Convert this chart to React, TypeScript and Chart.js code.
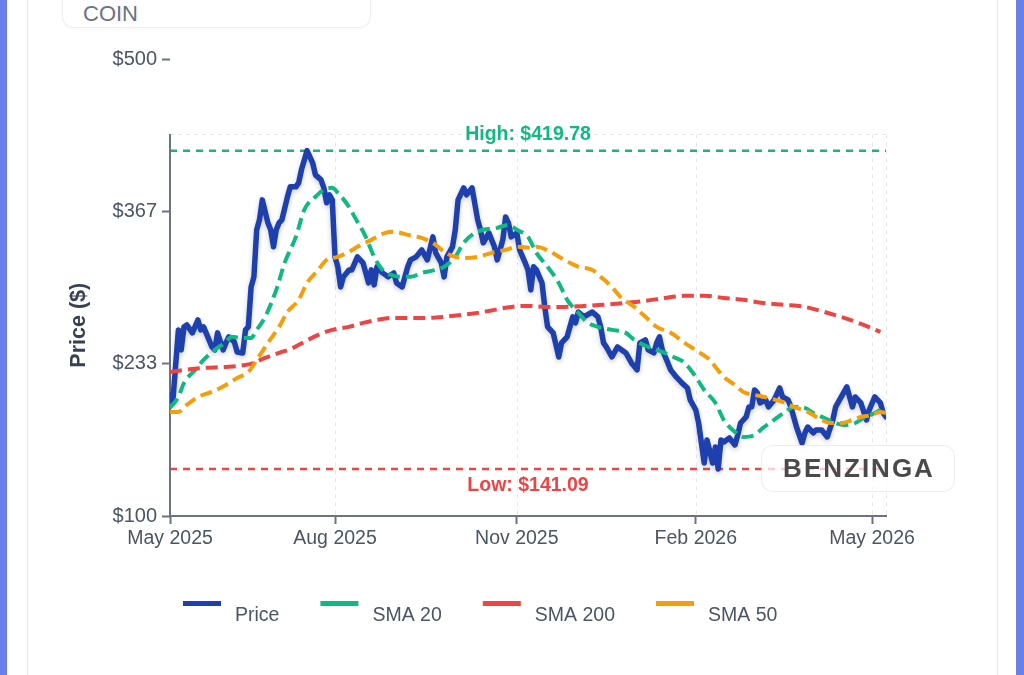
import { useEffect, useRef } from "react";
import { Chart, registerables } from "chart.js";

Chart.register(...registerables);

const FONT = '"Liberation Sans", Arial, Helvetica, sans-serif';

const symbol = "COIN";
const watermark = "BENZINGA";

const seriesNames = ["Price", "SMA 20", "SMA 200", "SMA 50"];
const seriesColors = ["#1e40af", "#10b981", "#ef4444", "#f59e0b"];

// x axis: trading-day index from the first session
const xTickDays = [0, 59, 124, 188, 251];
const xTickLabels = ["May 2025", "Aug 2025", "Nov 2025", "Feb 2026", "May 2026"];
const lastDay = 256;

const yTickValues = [100, 233.33, 366.67, 500];
const yMin = 100;
const yMax = 500;
const plotTopValue = 434;

const highValue = 419.78;
const lowValue = 141.09;

const priceDays = [
  0, 1, 3, 4, 5, 6, 8, 10, 11, 12, 15, 16, 17, 19, 20, 21, 23, 24, 26, 27, 28, 29, 30, 31, 32, 33, 35, 36,
  37, 38, 39, 40, 42, 43, 45, 46, 47, 49, 51, 52, 54, 55, 56, 57, 58, 59, 60, 61, 62, 64, 65, 67, 69, 71,
  72, 73, 74, 76, 78, 80, 81, 83, 85, 86, 88, 90, 92, 94, 95, 97, 98, 99, 101, 102, 103, 105, 106, 108,
  110, 111, 112, 114, 116, 117, 119, 120, 121, 122, 124, 125, 127, 128, 129, 130, 131, 133, 134, 135,
  137, 139, 140, 142, 144, 145, 146, 148, 151, 153, 154, 155, 156, 158, 160, 163, 165, 167, 168, 170,
  171, 173, 174, 175, 176, 178, 179, 181, 183, 185, 186, 188, 189, 190, 191, 192, 194, 195, 196, 197,
  198, 200, 202, 203, 204, 206, 207, 208, 209, 210, 211, 213, 214, 216, 218, 219, 221, 222, 223, 224,
  226, 227, 228, 230, 231, 233, 235, 237, 238, 240, 242, 243, 244, 245, 247, 249, 250, 252, 254, 255, 256,
];
const priceValues = [
  206.0, 199.8, 262.9, 245.4, 265.5, 267.3, 260.3, 271.6, 262.9, 265.5, 248.0, 245.4, 260.3, 245.4, 251.5,
  256.8, 252.4, 243.6, 242.7, 262.9, 265.5, 300.5, 309.3, 350.5, 359.2, 376.7, 356.6, 350.5, 335.6, 350.5,
  356.6, 359.2, 379.4, 388.1, 388.1, 391.6, 403.0, 419.78, 409.1, 398.6, 394.2, 387.2, 374.1, 381.1, 376.7,
  326.8, 318.1, 300.5, 309.3, 315.4, 315.4, 326.8, 321.6, 304.0, 315.4, 302.3, 318.1, 312.8, 309.3, 312.8,
  304.0, 300.5, 318.1, 324.2, 326.8, 332.9, 324.2, 344.3, 330.3, 321.6, 309.3, 326.8, 335.6, 350.5, 376.7,
  387.2, 381.1, 387.2, 359.2, 350.5, 339.1, 347.8, 335.6, 324.2, 341.7, 361.8, 356.6, 344.3, 347.8, 332.9,
  321.6, 315.4, 297.9, 318.1, 315.4, 304.0, 283.0, 265.5, 260.3, 239.2, 251.5, 256.8, 274.3, 269.0, 278.6,
  274.3, 278.6, 274.3, 265.5, 251.5, 248.0, 239.2, 248.0, 242.7, 234.0, 227.9, 251.5, 254.1, 245.4, 242.7,
  251.5, 256.8, 245.4, 234.0, 227.9, 221.7, 216.5, 212.1, 201.6, 192.8, 181.4, 163.9, 146.4, 166.6, 146.4,
  160.4, 141.09, 166.6, 164.8, 168.3, 162.2, 170.9, 181.4, 186.7, 195.5, 195.5, 210.3, 207.7, 199.0, 201.6,
  195.5, 201.6, 212.1, 204.2, 201.6, 195.5, 186.7, 177.9, 163.9, 172.7, 177.9, 172.7, 175.3, 175.3, 169.2,
  184.1, 195.5, 204.2, 213.0, 204.2, 195.5, 204.2, 199.0, 184.1, 192.8, 204.2, 199.0, 190.2, 186.7,
];

const sma20Days = [
  0, 3, 5, 9, 12, 16, 20, 22, 26, 29, 31, 34, 38, 41, 45, 48, 52, 55, 58, 60, 64, 66, 70, 73, 76, 79, 83,
  86, 90, 95, 98, 102, 105, 109, 112, 117, 121, 124, 128, 131, 135, 139, 142, 146, 149, 153, 158, 163,
  166, 171, 176, 180, 184, 188, 191, 195, 198, 202, 205, 209, 212, 216, 220, 223, 227, 230, 234, 238,
  241, 245, 248, 252, 255,
];
const sma20Values = [
  194.6, 204.2, 216.5, 227.9, 236.6, 245.4, 252.4, 256.8, 255.9, 255.9, 262.9, 274.3, 297.9, 321.6, 344.3,
  368.0, 379.4, 385.5, 387.2, 382.9, 370.6, 361.8, 344.3, 326.8, 315.4, 311.0, 309.3, 309.3, 312.8, 315.4,
  318.1, 326.8, 339.1, 347.8, 350.5, 352.2, 354.8, 350.5, 344.3, 330.3, 318.1, 304.0, 289.2, 277.8, 269.9,
  265.5, 262.9, 260.3, 254.1, 248.0, 243.6, 239.2, 234.0, 221.7, 210.3, 199.0, 184.1, 173.6, 169.2, 170.9,
  177.1, 184.1, 191.1, 195.5, 194.6, 190.2, 185.8, 181.4, 179.7, 181.4, 185.8, 190.2, 194.6,
];

const sma200Days = [
  0, 5, 12, 20, 27, 30, 34, 39, 44, 48, 53, 58, 64, 69, 74, 80, 86, 92, 98, 104, 110, 116, 122, 128, 134,
  141, 148, 155, 163, 170, 177, 184, 191, 198, 205, 212, 220, 227, 234, 241, 248, 254,
];
const sma200Values = [
  226.1, 227.9, 229.6, 230.5, 232.2, 234.0, 238.4, 242.7, 247.1, 252.4, 258.5, 262.9, 265.5, 269.0, 271.6,
  273.4, 273.4, 273.4, 274.3, 276.0, 277.8, 280.4, 283.0, 283.9, 283.0, 283.0, 283.9, 284.8, 286.5, 288.3,
  290.9, 292.7, 292.7, 290.9, 289.2, 286.5, 284.8, 283.0, 278.6, 273.4, 267.3, 261.1,
];

const sma50Days = [
  0, 3, 6, 10, 15, 20, 24, 28, 31, 35, 39, 42, 46, 49, 53, 56, 60, 64, 67, 72, 77, 80, 85, 90, 95, 98, 102,
  105, 110, 115, 120, 124, 129, 131, 136, 141, 146, 151, 154, 158, 161, 166, 170, 174, 179, 184, 189, 193,
  195, 198, 202, 205, 209, 214, 219, 223, 228, 233, 236, 240, 244, 247, 251, 254, 256,
];
const sma50Values = [
  191.1, 191.1, 197.2, 204.2, 208.6, 214.7, 220.8, 226.1, 236.6, 251.5, 265.5, 278.6, 289.2, 304.0, 315.4,
  324.2, 326.8, 331.2, 335.6, 341.7, 347.8, 348.7, 346.1, 343.4, 337.3, 331.2, 326.8, 325.9, 326.8, 330.3,
  332.9, 335.6, 334.7, 335.6, 331.2, 324.2, 318.1, 315.4, 309.3, 300.5, 291.8, 283.0, 274.3, 265.5, 260.3,
  251.5, 243.6, 236.6, 230.5, 221.7, 214.7, 208.6, 206.0, 203.3, 199.8, 195.5, 191.1, 184.1, 181.4, 181.4,
  184.1, 186.7, 188.4, 191.1, 190.2,
];

const AXIS_COLOR = "#6b7280";
const TICK_TEXT = "#4b5563";
const GRID_COLOR = "#e5e7eb";

const toPoints = (days: number[], values: number[]) => days.map((d, i) => ({ x: d, y: values[i] }));

const overlayPlugin = {
  id: "overlay",
  beforeDatasetsDraw(chart: any) {
    const { ctx, chartArea, scales } = chart;
    const xs = scales.x;
    const ys = scales.y;
    const top = Math.round(ys.getPixelForValue(plotTopValue)) + 0.5;
    const bottom = chartArea.bottom;
    ctx.save();

    // dashed frame grid
    ctx.strokeStyle = GRID_COLOR;
    ctx.lineWidth = 1;
    ctx.setLineDash([4, 4]);
    ctx.beginPath();
    ctx.moveTo(chartArea.left, top);
    ctx.lineTo(chartArea.right, top);
    [...xTickDays.slice(1), lastDay].forEach((d) => {
      const px = Math.round(xs.getPixelForValue(d)) + 0.5;
      ctx.moveTo(px, top);
      ctx.lineTo(px, bottom);
    });
    ctx.stroke();

    // high / low reference lines
    const refs = [
      { value: highValue, color: seriesColors[1], text: `High: $${highValue.toFixed(2)}`, dy: -16 },
      { value: lowValue, color: seriesColors[2], text: `Low: $${lowValue.toFixed(2)}`, dy: 17 },
    ];
    const midX = (chartArea.left + chartArea.right) / 2;
    refs.forEach((r) => {
      const py = ys.getPixelForValue(r.value);
      ctx.strokeStyle = r.color;
      ctx.lineWidth = 2.5;
      ctx.setLineDash([7, 6]);
      ctx.beginPath();
      ctx.moveTo(chartArea.left, py);
      ctx.lineTo(chartArea.right, py);
      ctx.stroke();
      ctx.setLineDash([]);
      ctx.fillStyle = r.color;
      ctx.font = `bold 19.5px ${FONT}`;
      ctx.textAlign = "center";
      ctx.textBaseline = "middle";
      ctx.fillText(r.text, midX, py + r.dy);
    });

    // left axis line
    ctx.setLineDash([]);
    ctx.strokeStyle = AXIS_COLOR;
    ctx.lineWidth = 2;
    ctx.beginPath();
    ctx.moveTo(chartArea.left, top - 0.5);
    ctx.lineTo(chartArea.left, bottom + 1);
    ctx.stroke();
    ctx.restore();
  },
  beforeDatasetDraw(chart: any, args: any) {
    if (args.index === 0) {
      const ctx = chart.ctx;
      ctx.save();
      ctx.shadowColor = "rgba(15, 23, 42, 0.22)";
      ctx.shadowBlur = 5;
      ctx.shadowOffsetY = 2;
    }
  },
  afterDatasetDraw(chart: any, args: any) {
    if (args.index === 0) chart.ctx.restore();
  },
  afterDraw(chart: any) {
    const { ctx, chartArea, scales } = chart;
    ctx.save();
    // y axis title, centred on the framed plot region
    const top = scales.y.getPixelForValue(plotTopValue);
    ctx.translate(79, (top + chartArea.bottom) / 2);
    ctx.rotate(-Math.PI / 2);
    ctx.fillStyle = "#374151";
    ctx.font = `bold 21.5px ${FONT}`;
    ctx.textAlign = "center";
    ctx.textBaseline = "middle";
    ctx.fillText("Price ($)", 0, 0);
    ctx.restore();

    // legend
    ctx.save();
    ctx.font = `19.5px ${FONT}`;
    ctx.textBaseline = "middle";
    ctx.textAlign = "left";
    let x = 183;
    seriesNames.forEach((name, i) => {
      ctx.strokeStyle = seriesColors[i];
      ctx.lineWidth = 5;
      ctx.beginPath();
      ctx.moveTo(x, 603.5);
      ctx.lineTo(x + 38, 603.5);
      ctx.stroke();
      ctx.fillStyle = TICK_TEXT;
      const tx = x + 52;
      ctx.fillText(name, tx, 616);
      x = tx + ctx.measureText(name).width + 41;
    });
    ctx.restore();
  },
};

export default function App() {
  const canvasRef = useRef<HTMLCanvasElement>(null);

  useEffect(() => {
    const canvas = canvasRef.current;
    if (!canvas) return;
    const lineCommon = { pointRadius: 0, pointHoverRadius: 0, fill: false };
    const chart = new Chart(canvas, {
      type: "line",
      data: {
        datasets: [
          {
            ...lineCommon,
            label: seriesNames[0],
            data: toPoints(priceDays, priceValues),
            borderColor: seriesColors[0],
            borderWidth: 5.5,
            tension: 0,
            borderJoinStyle: "round",
            borderCapStyle: "round",
            order: 4,
          },
          {
            ...lineCommon,
            label: seriesNames[1],
            data: toPoints(sma20Days, sma20Values),
            borderColor: seriesColors[1],
            borderWidth: 4,
            borderDash: [12, 6],
            cubicInterpolationMode: "monotone",
            order: 3,
          },
          {
            ...lineCommon,
            label: seriesNames[2],
            data: toPoints(sma200Days, sma200Values),
            borderColor: seriesColors[2],
            borderWidth: 4,
            borderDash: [12, 6],
            cubicInterpolationMode: "monotone",
            order: 2,
          },
          {
            ...lineCommon,
            label: seriesNames[3],
            data: toPoints(sma50Days, sma50Values),
            borderColor: seriesColors[3],
            borderWidth: 4,
            borderDash: [12, 6],
            cubicInterpolationMode: "monotone",
            order: 1,
          },
        ],
      },
      options: {
        responsive: false,
        animation: false,
        devicePixelRatio: 1,
        layout: { padding: { left: 0, right: 138, top: 59, bottom: 0 } },
        plugins: { legend: { display: false }, tooltip: { enabled: false } },
        scales: {
          x: {
            type: "linear",
            min: 0,
            max: lastDay,
            afterBuildTicks: (scale: any) => {
              scale.ticks = xTickDays.map((v) => ({ value: v }));
            },
            afterFit: (scale: any) => {
              scale.height = 159;
            },
            ticks: {
              autoSkip: false,
              maxRotation: 0,
              padding: 3,
              color: TICK_TEXT,
              font: { family: FONT, size: 19.5 },
              callback: (_v: any, i: number) => xTickLabels[i],
            },
            grid: {
              drawOnChartArea: false,
              drawTicks: true,
              tickLength: 8,
              tickColor: AXIS_COLOR,
              tickWidth: 2,
            },
            border: { display: true, color: AXIS_COLOR, width: 2 },
          },
          y: {
            type: "linear",
            min: yMin,
            max: yMax,
            afterBuildTicks: (scale: any) => {
              scale.ticks = yTickValues.map((v) => ({ value: v }));
            },
            afterFit: (scale: any) => {
              scale.width = 170;
            },
            ticks: {
              padding: 5,
              color: TICK_TEXT,
              font: { family: FONT, size: 20 },
              callback: (v: any) => `$${Math.round(Number(v))}`,
            },
            grid: {
              drawOnChartArea: false,
              drawTicks: true,
              tickLength: 8,
              tickColor: AXIS_COLOR,
              tickWidth: 2,
            },
            border: { display: false },
          },
        },
      },
      plugins: [overlayPlugin],
    } as any);
    return () => chart.destroy();
  }, []);

  return (
    <div style={{ position: "fixed", inset: 0, background: "#ffffff", overflow: "hidden", fontFamily: FONT }}>
      <div style={{ position: "absolute", left: 0, top: 0, width: 7, height: "100%", background: "#6b7fe9" }} />
      <div style={{ position: "absolute", left: 1016, top: 0, width: 8, height: "100%", background: "#6b7fe9" }} />
      <div
        style={{
          position: "absolute",
          left: 27,
          top: -20,
          width: 969,
          height: 740,
          border: "1px solid #e5e7eb",
          background: "#ffffff",
        }}
      />
      <div
        style={{
          position: "absolute",
          left: 62,
          top: -30,
          width: 307,
          height: 56,
          border: "1px solid #eceef1",
          borderRadius: 12,
          background: "#ffffff",
          boxShadow: "0 1px 3px rgba(0,0,0,0.04)",
        }}
      />
      <div
        style={{
          position: "absolute",
          left: 83,
          top: 0,
          lineHeight: "28px",
          fontSize: 22,
          color: "#6b7280",
        }}
      >
        {symbol}
      </div>
      <canvas
        ref={canvasRef}
        width={1024}
        height={675}
        style={{ position: "absolute", left: 0, top: 0, width: 1024, height: 675 }}
      />
      <div
        style={{
          position: "absolute",
          left: 761,
          top: 445,
          width: 194,
          height: 47,
          boxSizing: "border-box",
          border: "1px solid rgba(0,0,0,0.07)",
          borderRadius: 12,
          background: "rgba(255,255,255,0.72)",
          display: "flex",
          alignItems: "center",
          justifyContent: "center",
          fontWeight: "bold",
          fontSize: 26,
          letterSpacing: 2,
          color: "#4a4a4c",
          paddingLeft: 2,
        }}
      >
        {watermark}
      </div>
    </div>
  );
}
